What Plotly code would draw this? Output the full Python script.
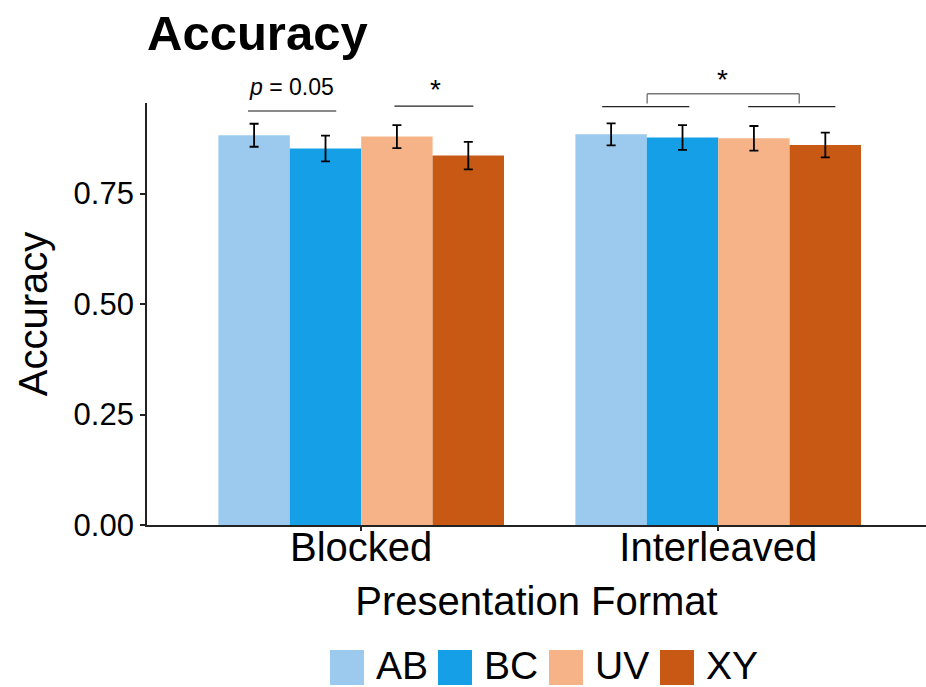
import plotly.graph_objects as go

# ---- data ----
formats = ["Blocked", "Interleaved"]
conditions = ["AB", "BC", "UV", "XY"]
accuracy = {
    "AB": [0.882, 0.884],
    "BC": [0.852, 0.877],
    "UV": [0.879, 0.875],
    "XY": [0.836, 0.860],
}
sem = {
    "AB": [0.026, 0.025],
    "BC": [0.029, 0.028],
    "UV": [0.026, 0.028],
    "XY": [0.031, 0.028],
}
y_ticks = [0.0, 0.25, 0.50, 0.75]
y_tick_text = ["0.00", "0.25", "0.50", "0.75"]

colors = {"AB": "#9BCAEE", "BC": "#159FE7", "UV": "#F5B387", "XY": "#C75914"}

FONT = "Liberation Sans, Arial, Helvetica, sans-serif"
W, H = 926, 687
M_L, M_R, M_T, M_B = 147, 0, 103, 162
Y_MAX = 0.955

fig = go.Figure()
for cond in conditions:
    fig.add_trace(go.Bar(
        x=formats,
        y=accuracy[cond],
        name=cond,
        marker=dict(color=colors[cond], line=dict(width=0)),
        error_y=dict(type="data", array=sem[cond], color="black",
                     thickness=1.8, width=4.5),
        showlegend=False,
    ))


def paper_y(v):
    # data value -> paper fraction of the plot area
    return v / Y_MAX


line_dark = dict(color="#222222", width=1.2)
line_gray = dict(color="#8a8a8a", width=2)
line_bracket = dict(color="#777777", width=1.4)

shapes = []


def hline(x0, x1, y, style):
    shapes.append(dict(type="line", xref="x", yref="paper", x0=x0, x1=x1,
                       y0=paper_y(y), y1=paper_y(y), line=style))


def vline(x, y0, y1, style):
    shapes.append(dict(type="line", xref="x", yref="paper", x0=x, x1=x,
                       y0=paper_y(y0), y1=paper_y(y1), line=style))


# Blocked: AB vs BC (p = 0.05), UV vs XY (*)
hline(-0.317, -0.070, 0.937, line_gray)
hline(0.093, 0.314, 0.948, line_dark)
# Interleaved: AB/BC pair vs UV/XY pair (*)
hline(0.675, 0.919, 0.947, line_dark)
hline(1.084, 1.328, 0.947, line_dark)
hline(0.801, 1.227, 0.976, line_bracket)
vline(0.801, 0.976, 0.954, line_bracket)
vline(1.227, 0.976, 0.954, line_bracket)


def label(x, y, text, size):
    return dict(x=x, y=paper_y(y), xref="x", yref="paper", text=text,
                showarrow=False, font=dict(family=FONT, size=size, color="black"),
                xanchor="center", yanchor="middle")


annotations = [
    label(-0.196, 0.992, "<i>p</i> = 0.05", 23),
    label(0.207, 0.986, "*", 28),
    label(1.011, 1.008, "*", 28),
]

# Legend drawn as large swatches beneath the axis title
plot_w = W - M_L - M_R
plot_h = H - M_T - M_B


def px_x(px):
    return (px - M_L) / plot_w


def px_y(py):
    return (H - M_B - py) / plot_h


legend_left = [330, 438, 549, 660]
for cond, left in zip(conditions, legend_left):
    shapes.append(dict(type="rect", xref="paper", yref="paper",
                       x0=px_x(left), x1=px_x(left + 34),
                       y0=px_y(685), y1=px_y(650),
                       fillcolor=colors[cond], line=dict(width=0)))
    annotations.append(dict(x=px_x(left + 44), y=px_y(665), xref="paper",
                            yref="paper", text=cond, showarrow=False,
                            xanchor="left", yanchor="middle",
                            font=dict(family=FONT, size=39, color="black")))

fig.update_layout(
    width=W, height=H,
    margin=dict(l=M_L, r=M_R, t=M_T, b=M_B),
    plot_bgcolor="white", paper_bgcolor="white",
    barmode="group", bargap=0.2, bargroupgap=0,
    font=dict(family=FONT, color="black"),
    title=dict(text="<b>Accuracy</b>", x=0, xref="paper", xanchor="left",
               y=1 - 33 / H, yref="container", yanchor="middle",
               font=dict(family=FONT, size=49, color="black")),
    shapes=shapes,
    annotations=annotations,
    showlegend=False,
)

fig.update_xaxes(
    type="category", range=[-0.6, 1.582],
    showline=True, linecolor="#222222", linewidth=1.8,
    ticks="outside", ticklen=4, tickcolor="#222222", tickwidth=1.5,
    ticklabelstandoff=-18,
    tickfont=dict(family=FONT, size=40, color="black"),
    showgrid=False, zeroline=False,
    title=dict(text="Presentation Format", standoff=19,
               font=dict(family=FONT, size=40, color="black")),
)
fig.update_yaxes(
    range=[0, Y_MAX],
    tickvals=y_ticks, ticktext=y_tick_text,
    showline=True, linecolor="#222222", linewidth=1.8,
    ticks="outside", ticklen=5, tickcolor="#222222", tickwidth=1.5,
    tickfont=dict(family=FONT, size=31, color="black"),
    showgrid=False, zeroline=False,
    title=dict(text="Accuracy", standoff=14,
               font=dict(family=FONT, size=40, color="black")),
)

fig.write_html("out.html")
